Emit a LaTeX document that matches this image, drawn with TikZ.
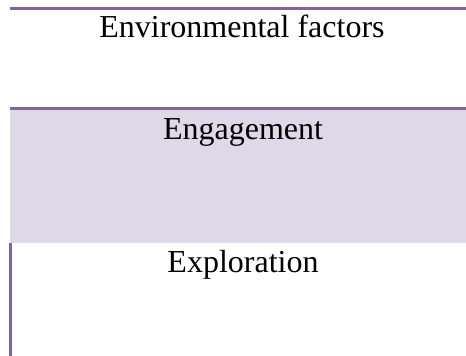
\documentclass[tikz,border=0pt]{standalone}
\usepackage{fontspec}
\setmainfont{Liberation Serif}
\definecolor{accent}{RGB}{128,100,162}
\definecolor{lavfill}{RGB}{223,216,232}
\tikzset{
  label text/.style={anchor=base, inner sep=0pt, font=\fontsize{32}{38}\selectfont, text=black},
  rule line/.style={draw=accent, line width=3pt}
}
\begin{document}
\begin{tikzpicture}[x=1pt,y=-1pt]
\useasboundingbox (0,0) rectangle (466,356);
% engagement band
\fill[lavfill] (10,109.5) rectangle (466,243);
% lines
\draw[rule line] (10,8.5) -- (466,8.5);
\draw[rule line] (10,108.5) -- (466,108.5);
\draw[rule line] (10.5,243) -- (10.5,356);
% labels
\node[label text] (env) at (242,37) {Environmental factors};
\node[label text] (eng) at (243,139) {Engagement};
\node[label text] (exp) at (243,272) {Exploration};
\end{tikzpicture}
\end{document}
